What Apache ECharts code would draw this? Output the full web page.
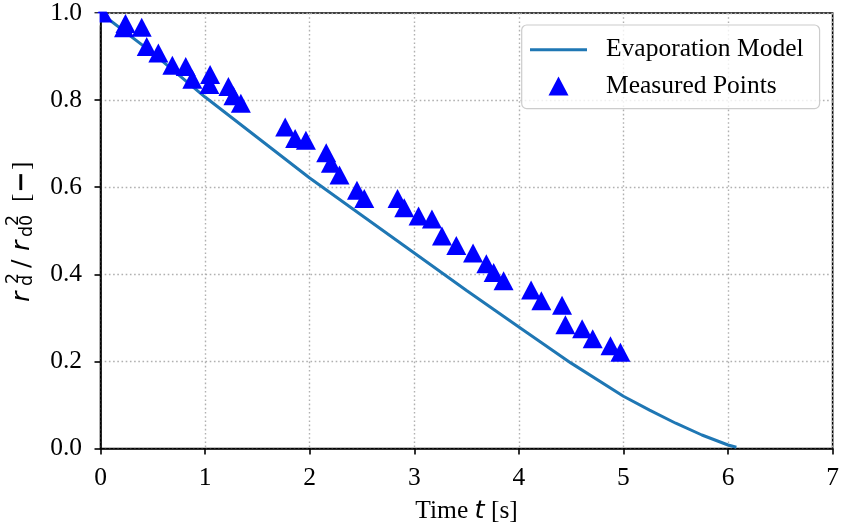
<!DOCTYPE html>
<html>
<head>
<meta charset="utf-8">
<script src="https://cdn.jsdelivr.net/npm/echarts@6/dist/echarts.min.js"></script>
<style>
html,body{margin:0;padding:0;background:#fff;}
#chart{width:842px;height:529px;}
</style>
</head>
<body>
<div id="chart"></div>
<script>
// ---- data ----
var modelTime = [0, 0.5, 1, 1.5, 2, 2.5, 3, 3.5, 4, 4.5, 5, 5.25, 5.5, 5.75, 6, 6.08];
var modelR2   = [1.0, 0.908, 0.807, 0.714, 0.621, 0.535, 0.449, 0.363, 0.279, 0.196, 0.12, 0.088, 0.058, 0.031, 0.008, 0.003];

var measuredTime = [0.02, 0.225, 0.239, 0.394, 0.442, 0.553, 0.687, 0.815, 0.878, 1.048, 1.041, 1.223, 1.271, 1.342,
  1.766, 1.861, 1.964, 2.158, 2.203, 2.285, 2.452, 2.522,
  2.840, 2.904, 3.041, 3.169, 3.265, 3.402, 3.562, 3.689, 3.759, 3.854,
  4.117, 4.215, 4.413, 4.445, 4.605, 4.706, 4.876, 4.971];
var measuredR2 = [1.0, 0.966, 0.976, 0.967, 0.923, 0.908, 0.880, 0.877, 0.848, 0.859, 0.836, 0.831, 0.810, 0.793,
  0.738, 0.712, 0.708, 0.679, 0.655, 0.628, 0.593, 0.574,
  0.574, 0.553, 0.534, 0.527, 0.488, 0.466, 0.449, 0.424, 0.404, 0.385,
  0.364, 0.339, 0.329, 0.284, 0.275, 0.252, 0.236, 0.221];

var xTicks = [0, 1, 2, 3, 4, 5, 6, 7];
var yTicks = [0.0, 0.2, 0.4, 0.6, 0.8, 1.0];
var seriesNames = ['Evaporation Model', 'Measured Points'];

// ---- chart ----
var serif = 'Liberation Serif, Times New Roman, serif';
var sans = 'DejaVu Sans, sans-serif';
var FS = 25.5, SFS = 17.5;

function zipXY(xs, ys) { return xs.map(function (x, i) { return [x, ys[i]]; }); }

function glyph(text, along, up, fs, font) {
  return {
    type: 'text', x: along, y: -up - 0.3 * fs,
    style: { text: text, font: font.replace('FS', fs + 'px'), fill: '#000',
      textAlign: 'left', textVerticalAlign: 'middle', align: 'left', verticalAlign: 'middle' }
  };
}
var IT = 'italic FS DejaVu Sans', RG = 'FS DejaVu Sans', SR = 'FS Liberation Serif', BD = 'bold FS DejaVu Sans';

// legend icons drawn inside a fixed 57x20 frame (the two M points fix the frame)
var lineIcon = 'path://M0,0 M57,20 M0,8.5 L57,8.5 L57,11.5 L0,11.5 Z';
var triIcon = 'path://M0,0 M57,20 M28.5,0.5 L38.5,19.5 L18.5,19.5 Z';

var chart = echarts.init(document.getElementById('chart'), null, { renderer: 'canvas' });
chart.setOption({
  animation: false,
  backgroundColor: '#fff',
  grid: { left: 100.5, right: 9.3, top: 12.5, bottom: 80, show: true, borderColor: '#000', borderWidth: 1.6, backgroundColor: 'transparent' },
  xAxis: {
    type: 'value', min: xTicks[0], max: xTicks[xTicks.length - 1], interval: 1,
    name: '{a|Time }{b|t}{a| [s]}', nameLocation: 'middle', nameGap: 49.5,
    nameTextStyle: { rich: { a: { fontFamily: serif, fontSize: FS, color: '#000' }, b: { fontFamily: sans, fontStyle: 'italic', fontSize: FS, color: '#000' } } },
    axisLine: { show: true, lineStyle: { color: '#000', width: 1.6 } },
    axisTick: { show: true, length: 6, lineStyle: { color: '#000', width: 1.6 } },
    axisLabel: { fontFamily: serif, fontSize: FS, color: '#000', margin: 17, formatter: function (v) { return String(v); } },
    splitLine: { show: true, lineStyle: { color: '#b0b0b0', width: 1.4, type: [1.6, 2.6] } }
  },
  yAxis: {
    type: 'value', min: yTicks[0], max: yTicks[yTicks.length - 1], interval: 0.2,
    axisLine: { show: true, lineStyle: { color: '#000', width: 1.6 } },
    axisTick: { show: true, length: 6, lineStyle: { color: '#000', width: 1.6 } },
    axisLabel: { fontFamily: serif, fontSize: FS, color: '#000', margin: 18.5, formatter: function (v) { return v.toFixed(1); } },
    splitLine: { show: true, lineStyle: { color: '#b0b0b0', width: 1.4, type: [1.6, 2.6] } }
  },
  legend: {
    orient: 'vertical', left: 521.7, top: 25,
    padding: [11.7, 16, 9.7, 8.3],
    itemWidth: 57, itemHeight: 20, itemGap: 10.2,
    backgroundColor: 'rgba(255,255,255,0.8)', borderColor: '#cccccc', borderWidth: 1.2, borderRadius: 5,
    textStyle: { fontFamily: serif, fontSize: FS, color: '#000', lineHeight: 20, padding: [0, 0, 0, 14] },
    data: [
      { name: seriesNames[0], icon: lineIcon, itemStyle: { color: '#1f77b4' } },
      { name: seriesNames[1], icon: triIcon, itemStyle: { color: '#0000ff' } }
    ]
  },
  graphic: [
    // white masks just outside the plot frame so the corner marker looks clipped, as in the reference
    { type: 'rect', z: 50, silent: true, shape: { x: 84, y: 0, width: 32, height: 11.6 }, style: { fill: '#fff' } },
    { type: 'rect', z: 50, silent: true, shape: { x: 84, y: 13.4, width: 15.6, height: 12 }, style: { fill: '#fff' } },
    {
      type: 'group', x: 30, y: 301, rotation: Math.PI / 2, z: 100,
      children: [
        glyph('r', -1, 0, FS, IT),
        glyph('d', 15, -3, SFS, RG),
        glyph('2', 17, 11, SFS, RG),
        glyph('/', 33, 0, FS, RG),
        glyph('r', 50, 0, FS, IT),
        glyph('d0', 64, -3, SFS, RG),
        glyph('2', 75, 11, SFS, RG),
        glyph('[', 99, 0, FS, SR),
        glyph('\u2212', 108, 0, FS, BD),
        glyph(']', 131, 0, FS, SR)
      ]
    }
  ],
  series: [
    {
      name: seriesNames[0], type: 'line', data: zipXY(modelTime, modelR2),
      symbol: 'none', smooth: false,
      lineStyle: { color: '#1f77b4', width: 3 }, itemStyle: { color: '#1f77b4' }, z: 2
    },
    {
      name: seriesNames[1], type: 'scatter', data: zipXY(measuredTime, measuredR2),
      symbol: 'triangle', symbolSize: [20, 19], clip: true,
      itemStyle: { color: '#0000ff', opacity: 1 }, z: 3
    }
  ]
});
</script>
</body>
</html>
